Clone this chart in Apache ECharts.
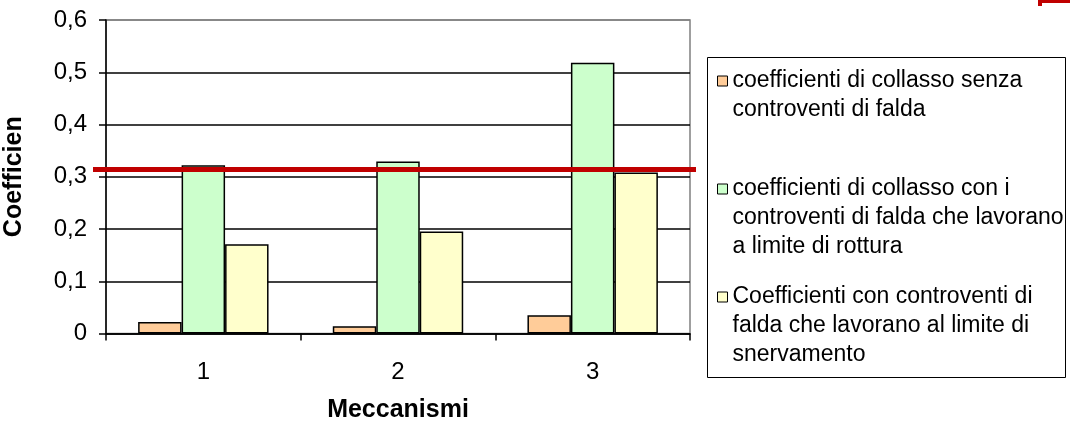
<!DOCTYPE html>
<html>
<head>
<meta charset="utf-8">
<style>
  html, body { margin: 0; padding: 0; background: #fff; }
  #chart { width: 1070px; height: 429px; }
</style>
<script src="https://cdn.jsdelivr.net/npm/echarts@6/dist/echarts.min.js"></script>
</head>
<body>
<div id="chart"></div>
<script>
// Collapse coefficients per mechanism
const categories = ['1', '2', '3'];
const seriesNames = [
  'coefficienti di collasso senza controventi di falda',
  'coefficienti di collasso con i controventi di falda che lavorano a limite di rottura',
  'Coefficienti con controventi di falda che lavorano al limite di snervamento'
];
const legendLines = [
  ['coefficienti di collasso senza', 'controventi di falda'],
  ['coefficienti di collasso con i', 'controventi di falda che lavorano', 'a limite di rottura'],
  ['Coefficienti con controventi di', 'falda che lavorano al limite di', 'snervamento']
];
const senzaControventi = [0.022, 0.014, 0.035];
const limiteRottura = [0.322, 0.329, 0.518];
const limiteSnervamento = [0.171, 0.195, 0.308];
const limitValue = 0.314;
const yTicks = [0, 0.1, 0.2, 0.3, 0.4, 0.5, 0.6];

const FONT = '"Liberation Sans", Arial, sans-serif';
const colors = ['#FFCC99', '#CCFFCC', '#FFFFCC'];
const seriesData = [senzaControventi, limiteRottura, limiteSnervamento];

const chart = echarts.init(document.getElementById('chart'), null, { renderer: 'canvas' });

const LINE_H = 29;
const legendCenters = [81, 189, 297];

// One legend block per series; blank leading lines keep the marker beside the first text line
const legends = legendLines.map((lines, i) => {
  const n = lines.length;
  const h = (2 * n - 1) * LINE_H;
  const text = '\n'.repeat(n - 1) + lines.join('\n');
  return {
    data: [seriesNames[i]],
    left: 717,
    top: legendCenters[i] - h / 2,
    orient: 'vertical',
    padding: 0,
    icon: 'rect',
    itemWidth: 10,
    itemHeight: 10,
    selectedMode: false,
    itemStyle: { borderColor: '#000', borderWidth: 1 },
    formatter: () => text,
    textStyle: {
      fontFamily: FONT,
      fontSize: 23,
      color: '#000',
      lineHeight: LINE_H
    }
  };
});

const option = {
  animation: false,
  backgroundColor: '#fff',
  textStyle: { fontFamily: FONT },
  grid: {
    left: 106, right: 380, top: 20, bottom: 95.5,
    outerBoundsMode: 'none',
    containLabel: false,
    show: true, borderColor: '#808080', borderWidth: 1.5, backgroundColor: '#fff'
  },
  legend: legends,
  xAxis: {
    type: 'category',
    data: categories,
    name: 'Meccanismi',
    nameLocation: 'middle',
    nameGap: 64,
    nameTextStyle: { fontFamily: FONT, fontSize: 25, fontWeight: 'bold', color: '#000' },
    axisLine: { lineStyle: { color: '#000', width: 1.5 } },
    axisTick: { show: true, length: 7, lineStyle: { color: '#000', width: 1.5 } },
    axisLabel: { margin: 27, fontFamily: FONT, fontSize: 24, color: '#000' },
    splitLine: { show: false }
  },
  yAxis: {
    type: 'value',
    min: 0,
    max: 0.6,
    interval: 0.1,
    name: 'Coefficien',
    nameLocation: 'middle',
    nameGap: 79,
    nameRotate: 90,
    nameTextStyle: { fontFamily: FONT, fontSize: 25, fontWeight: 'bold', color: '#000' },
    axisLine: { show: true, lineStyle: { color: '#000', width: 1.5 } },
    axisTick: { show: true, length: 7, lineStyle: { color: '#000', width: 1.5 } },
    axisLabel: {
      margin: 19,
      fontFamily: FONT,
      fontSize: 24,
      color: '#000',
      formatter: v => {
        const t = yTicks.find(x => Math.abs(x - v) < 1e-9);
        return String(Math.round((t === undefined ? v : t) * 10) / 10).replace('.', ',');
      }
    },
    splitLine: {
      show: true,
      lineStyle: { color: ['#000', '#000', '#000', '#000', '#000', '#000', '#808080'], width: 1.5 }
    }
  },
  series: seriesNames.map((name, i) => ({
    name,
    type: 'bar',
    data: seriesData[i],
    barGap: '0%',
    barCategoryGap: '33%',
    itemStyle: { color: colors[i], borderColor: '#000', borderWidth: 1.5 },
    emphasis: { disabled: true }
  })),
  graphic: [
    {
      id: 'legendBox',
      type: 'rect',
      z: 0,
      shape: { x: 707.5, y: 57.5, width: 358, height: 320 },
      style: { fill: '#fff', stroke: '#000', lineWidth: 1 }
    },
    {
      id: 'cornerMark',
      type: 'polygon',
      z: 10,
      shape: { points: [[1038, 0], [1070, 0], [1070, 3], [1042, 3], [1042, 6], [1038, 6]] },
      style: { fill: '#C00000' }
    }
  ]
};

chart.setOption(option);

// Horizontal limit line at the threshold coefficient, placed through the y scale
const yLimit = chart.convertToPixel({ yAxisIndex: 0 }, limitValue);
chart.setOption({
  graphic: [
    {
      id: 'limitLine',
      type: 'line',
      z: 20,
      shape: { x1: 93, y1: yLimit, x2: 696, y2: yLimit },
      style: { stroke: '#C00000', lineWidth: 5 }
    }
  ]
});
</script>
</body>
</html>
